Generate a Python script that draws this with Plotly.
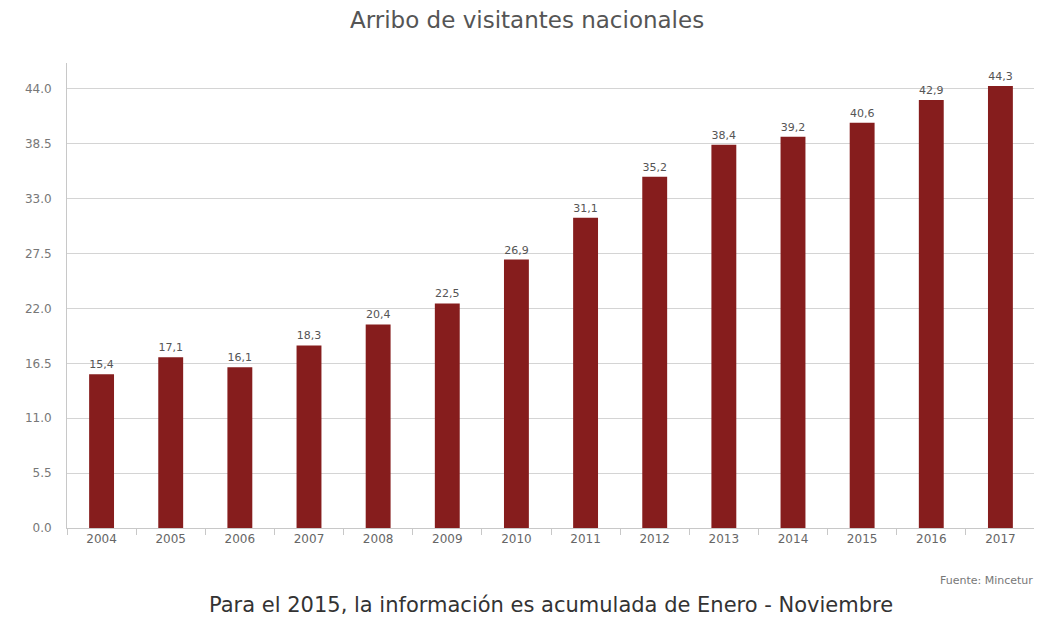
import plotly.graph_objects as go

years = ['2004', '2005', '2006', '2007', '2008', '2009', '2010',
         '2011', '2012', '2013', '2014', '2015', '2016', '2017']
visitantes = [15.4, 17.1, 16.1, 18.3, 20.4, 22.5, 26.9,
              31.1, 35.2, 38.4, 39.2, 40.6, 42.9, 44.3]
y_ticks = [0.0, 5.5, 11.0, 16.5, 22.0, 27.5, 33.0, 38.5, 44.0]

labels = [f'{v:.1f}'.replace('.', ',') for v in visitantes]

fig = go.Figure(go.Bar(
    x=years,
    y=visitantes,
    text=labels,
    textposition='outside',
    cliponaxis=False,
    textfont=dict(size=11, color='#555555'),
    marker=dict(color='#861d1d', line=dict(width=0)),
    hoverinfo='x+y',
))

# page body has an 8px margin, so the figure is 8px smaller than the window
fig.update_layout(
    width=1034,
    height=609,
    paper_bgcolor='white',
    plot_bgcolor='white',
    font=dict(family='DejaVu Sans, Verdana, sans-serif', color='#666666'),
    margin=dict(l=59, r=7, t=55, b=89),
    bargap=0.64,
    showlegend=False,
    title=dict(text='Arribo de visitantes nacionales',
               x=0.502, xanchor='center', y=0.98, yanchor='middle',
               font=dict(size=23, color='#555555')),
    annotations=[
        dict(text='Fuente: Mincetur', xref='paper', yref='paper',
             x=1, y=-0.112, xanchor='right', yanchor='middle',
             showarrow=False, font=dict(size=11, color='#777777')),
        dict(text='Para el 2015, la información es acumulada de Enero - Noviembre',
             xref='paper', yref='paper', x=0.5, y=-0.166,
             xanchor='center', yanchor='middle', showarrow=False,
             font=dict(size=21, color='#333333')),
    ],
)

fig.update_xaxes(
    type='category',
    showline=True,
    linecolor='#c8c8c8',
    ticks='outside',
    tickson='boundaries',
    ticklen=6,
    tickcolor='#c8c8c8',
    tickfont=dict(size=12, color='#666666'),
    showgrid=False,
)
fig.update_yaxes(
    range=[0, 46.6],
    tickmode='array',
    tickvals=y_ticks,
    tickformat='.1f',
    showline=True,
    linecolor='#c8c8c8',
    gridcolor='#d4d4d4',
    zeroline=False,
    ticks='',
    ticklabelstandoff=12,
    tickfont=dict(size=12, color='#777777'),
)

fig.write_html('out.html')
